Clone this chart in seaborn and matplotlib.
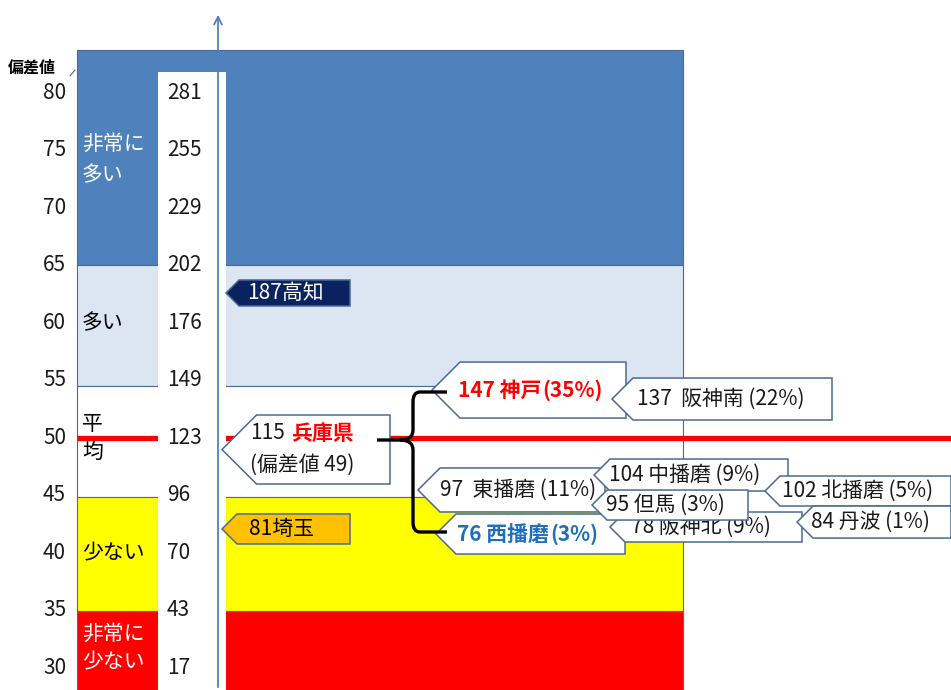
import numpy as np
import seaborn as sns
import matplotlib.pyplot as plt
from matplotlib.patches import Polygon, Rectangle
from matplotlib.path import Path
from matplotlib.patches import PathPatch

# --- データ ---
dev_ticks = [80, 75, 70, 65, 60, 55, 50, 45, 40, 35, 30]
count_ticks = [281, 255, 229, 202, 176, 149, 123, 96, 70, 43, 17]

band_edges = [83.74, 65, 54.5, 44.9, 35, 20]
band_names = ["非常に\n多い", "多い", "平\n均", "少ない", "非常に\n少ない"]
band_label_y = [74.2, 60.0, 50.0, 40.0, 31.7]

mean_dev = 50

# 都道府県の吹き出し
pref_names = ["高知", "埼玉"]
pref_counts = [187, 81]
pref_dev = [62.61, 42.09]

hyogo_count = 115
hyogo_dev = 49

# 兵庫県内の地域
area_names = ["神戸", "阪神南", "東播磨", "中播磨", "北播磨", "但馬", "阪神北", "丹波", "西播磨"]
area_counts = [147, 137, 97, 104, 102, 95, 78, 84, 76]
area_share = [35, 22, 11, 9, 5, 3, 9, 1, 3]
area_pos = [54.17, 53.39, 45.48, 46.78, 45.39, 44.17, 42.26, 42.69, 41.65]

# --- レイアウト (ピクセル単位) ---
W, H = 951, 690
PX = 11.5                 # 偏差値1あたりのピクセル
Y_TOP = 30 + 668 / PX     # 画像上端の偏差値
Y_BOT = Y_TOP - H / PX
FS = 15

band_colors = ["#4F81BD", "#DCE6F2", "#FFFFFF", "#FFFF00", "#FF0000"]
band_text_colors = ["white", "black", "black", "black", "white"]
band_spacing = [1.55, 1.3, 1.4, 1.3, 1.4]
EDGE = "#4A6A94"

# 吹き出しの配置: (先端x, 右端x, 高さpx, 文字x)
area_layout = {
    "神戸": (432, 626, 56, 458),
    "阪神南": (612, 832, 42, 637),
    "東播磨": (418, 605, 44, 440),
    "中播磨": (594, 788, 32, 609),
    "北播磨": (765, 951, 30, 782),
    "但馬": (592, 748, 30, 606),
    "阪神北": (610, 802, 30, 631),
    "丹波": (797, 951, 32, 811),
    "西播磨": (436, 625, 40, 457),
}
draw_order = ["西播磨", "東播磨", "阪神北", "神戸", "阪神南", "中播磨", "北播磨", "丹波", "但馬"]

sns.set_theme(style="white")
plt.rcParams["font.family"] = ["Noto Sans CJK JP", "DejaVu Sans"]

fig = plt.figure(figsize=(W / 100, H / 100), dpi=100)
ax = fig.add_axes([0, 0, 1, 1])
ax.set_xlim(0, W)
ax.set_ylim(Y_BOT, Y_TOP)
ax.axis("off")
renderer = fig.canvas.get_renderer()


def callout(x_tip, x_right, yc, h_px, face, edge=EDGE, z=5):
    h = h_px / 2 / PX
    tip = h_px / 2
    pts = [(x_tip, yc), (x_tip + tip, yc + h), (x_right, yc + h),
           (x_right, yc - h), (x_tip + tip, yc - h)]
    ax.add_patch(Polygon(pts, closed=True, facecolor=face, edgecolor=edge,
                         linewidth=1.1, zorder=z))


def rich(x, y, parts, size=FS, z=6):
    # 色・太さの違う文字列を横に並べる
    for s, color, weight, gap in parts:
        t = ax.text(x, y, s, color=color, fontweight=weight, fontsize=size,
                    ha="left", va="center", zorder=z)
        bb = t.get_window_extent(renderer)
        x = x + bb.width + gap


# 帯
for i, name in enumerate(band_names):
    top, bot = band_edges[i], band_edges[i + 1]
    ax.add_patch(Rectangle((77, bot), 606, top - bot, facecolor=band_colors[i],
                           edgecolor=EDGE, linewidth=0.8, zorder=1))
    ax.text(82, band_label_y[i], name, color=band_text_colors[i], fontsize=FS,
            ha="left", va="center", linespacing=band_spacing[i], zorder=4)

# 平均線
sns.lineplot(x=[77, W], y=[mean_dev, mean_dev], color="#FF0000", linewidth=3.8,
             solid_capstyle="butt", ax=ax, zorder=2)

# 件数の白い列
ax.add_patch(Rectangle((158, Y_BOT), 68, (Y_TOP - 72 / PX) - Y_BOT,
                       facecolor="white", edgecolor="none", zorder=3))

# 目盛り
for d, c in zip(dev_ticks, count_ticks):
    ax.text(66, d, str(d), ha="right", va="center", fontsize=FS, color="#1a1a1a", zorder=4)
    ax.text(167, d, str(c), ha="left", va="center", fontsize=FS, color="#1a1a1a", zorder=4)

ax.text(8, Y_TOP - 68 / PX, "偏差値", fontsize=11.5, fontweight="bold", ha="left",
        va="center", color="black")
ax.plot([70, 75], [Y_TOP - 76 / PX, Y_TOP - 70 / PX], color=EDGE, lw=0.8)

# 縦の矢印
ax.annotate("", xy=(218, Y_TOP - 12 / PX), xytext=(218, Y_BOT),
            arrowprops=dict(arrowstyle="->", color="#4F81BD", lw=1.3,
                            mutation_scale=14), zorder=4)

# 高知・埼玉
callout(226, 350, pref_dev[0], 26, "#0B2260")
rich(247, pref_dev[0], [(f"{pref_counts[0]}{pref_names[0]}", "white", "normal", 0)])
callout(222, 350, pref_dev[1], 30, "#FFC000")
rich(249, pref_dev[1], [(f"{pref_counts[1]}{pref_names[1]}", "black", "normal", 0)])

# 兵庫県
callout(222, 390, hyogo_dev, 69, "white")
rich(250, hyogo_dev + 16 / PX, [(f"{hyogo_count}", "#1a1a1a", "normal", 6),
                                ("兵庫県", "#FF0000", "bold", 0)])
rich(250, hyogo_dev - 15 / PX, [(f"(偏差値 {hyogo_dev})", "#1a1a1a", "normal", 0)])

# 中括弧
yt, ym, yb = Y_TOP - 392 / PX, Y_TOP - 440 / PX, Y_TOP - 532 / PX
r = 10 / PX
verts = [(447, yt), (420, yt), (413, yt), (413, yt - r),
         (413, ym + r), (413, ym), (400, ym), (377, ym),
         (400, ym), (413, ym), (413, ym - r),
         (413, yb + r), (413, yb), (420, yb), (447, yb)]
codes = [Path.MOVETO, Path.LINETO, Path.CURVE3, Path.CURVE3,
         Path.LINETO, Path.CURVE3, Path.CURVE3, Path.LINETO,
         Path.MOVETO, Path.CURVE3, Path.CURVE3,
         Path.LINETO, Path.CURVE3, Path.CURVE3, Path.LINETO]
ax.add_patch(PathPatch(Path(verts, codes), facecolor="none", edgecolor="black",
                       linewidth=2.4, zorder=7))

# 地域
for k, name in enumerate(draw_order):
    i = area_names.index(name)
    x_tip, x_right, h_px, tx = area_layout[name]
    z = 5 + k * 0.1
    callout(x_tip, x_right, area_pos[i], h_px, "white", z=z)
    if name == "神戸":
        parts = [(f"{area_counts[i]} {name}", "#FF0000", "bold", 1),
                 (f"({area_share[i]}%)", "#FF0000", "bold", 0)]
    elif name == "西播磨":
        parts = [(f"{area_counts[i]} {name}", "#1F6EC0", "bold", 1),
                 (f"({area_share[i]}%)", "#1F6EC0", "bold", 0)]
    else:
        sep = "  " if area_counts[i] in (137, 97) else " "
        parts = [(f"{area_counts[i]}{sep}{name} ({area_share[i]}%)", "#1a1a1a", "normal", 0)]
    rich(tx, area_pos[i], parts, z=z + 0.05)

fig.savefig("out.png", dpi=100)
